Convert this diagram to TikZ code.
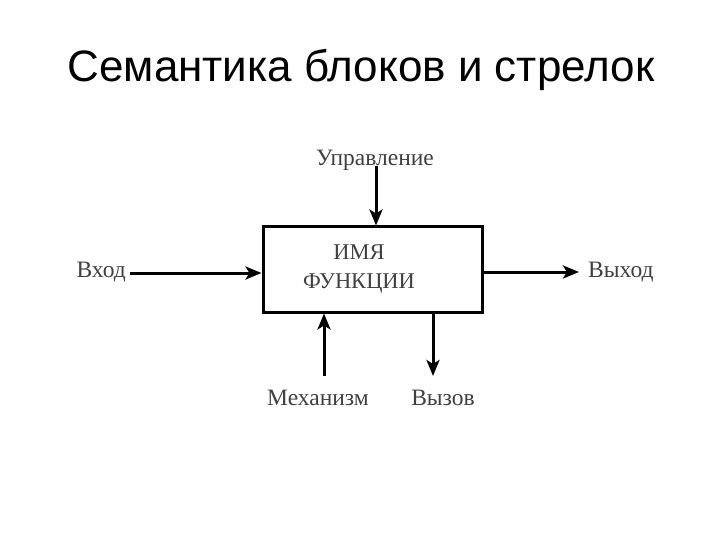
\documentclass[tikz,border=0pt]{standalone}
\usepackage{fontspec}
\setmainfont{Liberation Serif}
\newfontfamily\titlefont{Liberation Sans}
\usetikzlibrary{arrows.meta}
\begin{document}
\begin{tikzpicture}[x=1pt,y=-1pt,
  conn/.style={line width=3pt,-{Stealth[length=16pt,width=13pt,inset=4pt]}},
  lbl/.style={font=\fontsize{23.5}{26}\selectfont,text=black!75,inner sep=0pt},
  blk/.style={draw,line width=3pt,minimum width=219pt,minimum height=85pt,inner sep=0pt}]
\useasboundingbox (0,0) rectangle (720,540);
\node[font=\titlefont\fontsize{44}{48}\selectfont,inner sep=0pt] (title) at (361,70) {Семантика блоков и стрелок};
\node[blk] (box) at (372.5,269.5) {};
\node[lbl,align=center,font=\fontsize{22.5}{29}\selectfont] (name) at (359,269) {ИМЯ\\ФУНКЦИИ};
\node[lbl] (ctl) at (375,160) {Управление};
\node[lbl,anchor=east] (inp) at (126,272) {Вход};
\node[lbl,anchor=west] (out) at (588,272) {Выход};
\node[lbl] (mech) at (318,398) {Механизм};
\node[lbl] (call) at (443,398) {Вызов};
\coordinate (ctlS) at (376,166);
\coordinate (inpS) at (130,273);
\coordinate (outE) at (579,272);
\coordinate (mechS) at (324,376);
\coordinate (callE) at (433,376);
\draw[conn] (ctlS) -- (ctlS |- box.north);
\draw[conn] (inpS) -- (inpS -| box.west);
\draw[conn] (outE -| box.east) -- (outE);
\draw[conn] (mechS) -- (mechS |- box.south);
\draw[conn] (callE |- box.south) -- (callE);
\end{tikzpicture}
\end{document}
